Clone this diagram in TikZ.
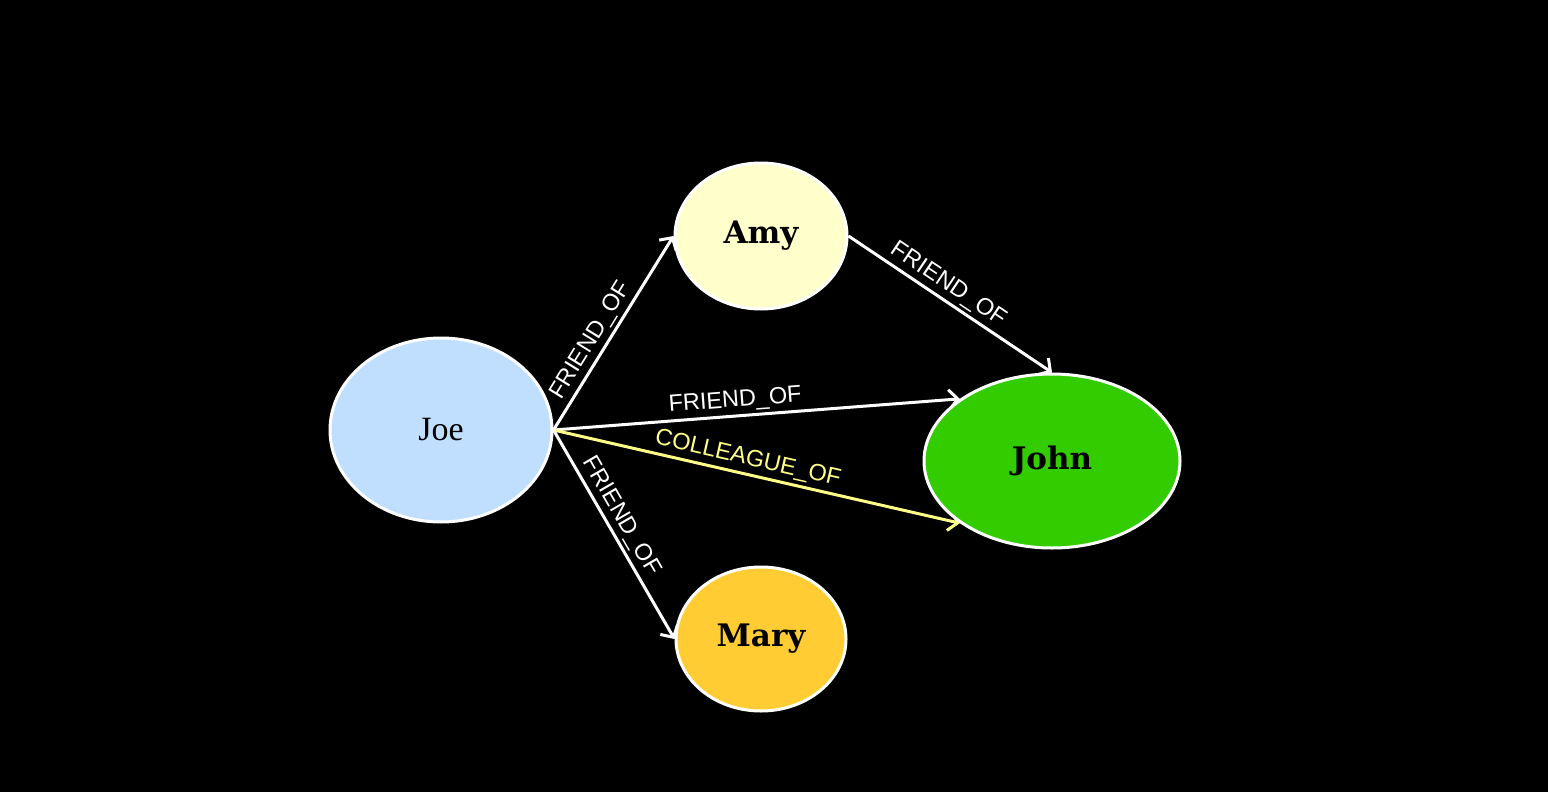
\documentclass[tikz,border=0pt]{standalone}
\usepackage{fontspec}
\setmainfont{Liberation Serif}
\newfontfamily\labelfont{Liberation Sans}
\newfontfamily\slabfont{DejaVu Serif}
\usetikzlibrary{shapes.geometric,arrows.meta}
\definecolor{joeblue}{HTML}{C0DFFF}
\definecolor{amyyellow}{HTML}{FFFFCC}
\definecolor{johngreen}{HTML}{33CC00}
\definecolor{maryorange}{HTML}{FFCC33}
\definecolor{colleague}{HTML}{FFFF88}
\pgfdeclarelayer{back}
\pgfdeclarelayer{edges}
\pgfsetlayers{back,edges,main}
\tikzset{
  person/.style={ellipse, draw=white, line width=3pt, inner sep=0pt, text=black},
  rel/.style={draw=white, line width=3pt, -{Straight Barb[length=9pt,width=20pt]}},
  rellabel/.style={text=white, font=\labelfont\fontsize{23.5}{25}\selectfont, sloped, above, inner sep=3pt},
}
\begin{document}
\begin{tikzpicture}[x=1pt,y=-1pt]
\begin{pgfonlayer}{back}
\fill[black] (0,0) rectangle (1548,792);
\end{pgfonlayer}
\useasboundingbox (0,0) rectangle (1548,792);
\node[person, fill=joeblue, minimum width=222pt, minimum height=184pt,
  font=\fontsize{34}{36}\selectfont] (joe) at (441,430) {Joe};
\node[person, fill=amyyellow, minimum width=172pt, minimum height=146pt,
  font=\slabfont\bfseries\fontsize{31}{33}\selectfont] (amy) at (761,236) {Amy};
\node[person, fill=johngreen, minimum width=256pt, minimum height=174pt,
  font=\slabfont\bfseries\fontsize{31}{33}\selectfont] (john) at (1052,461) {John};
\node[person, fill=maryorange, minimum width=170pt, minimum height=144pt,
  font=\slabfont\bfseries\fontsize{31}{33}\selectfont] (mary) at (761,639) {Mary};
\begin{pgfonlayer}{edges}
\draw[rel] (joe.east) -- node[rellabel, pos=0.42] {FRIEND\_OF} (amy.west);
\draw[rel] (amy.east) -- node[rellabel, pos=0.45] {FRIEND\_OF} (john.north);
\draw[rel] (joe.east) -- node[rellabel, pos=0.45] {FRIEND\_OF} (john.146);
\draw[rel, draw=colleague] (joe.east) -- node[rellabel, pos=0.47, text=colleague] {COLLEAGUE\_OF} (john.214);
\draw[rel] (joe.east) -- node[rellabel, pos=0.45] {FRIEND\_OF} (mary.west);
\end{pgfonlayer}
\end{tikzpicture}
\end{document}
